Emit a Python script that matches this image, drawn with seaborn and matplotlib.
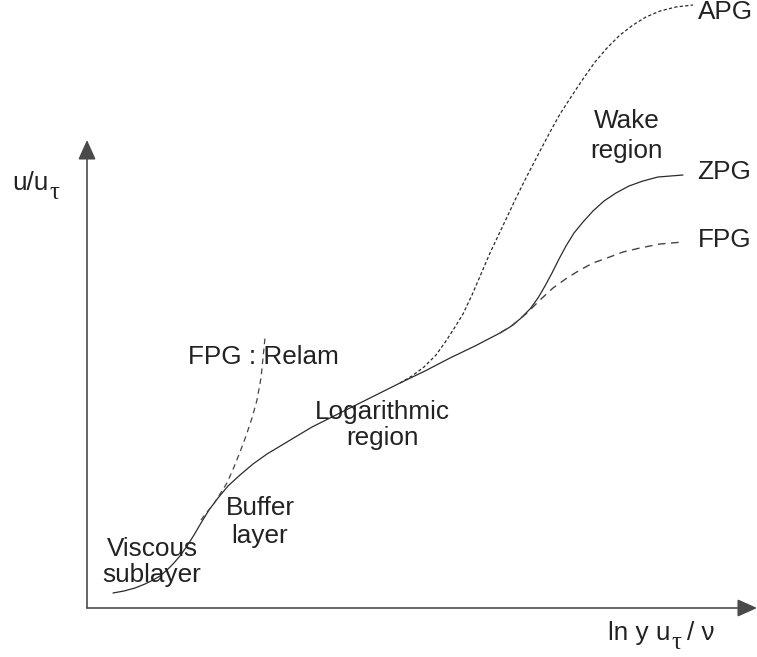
import matplotlib
matplotlib.use("Agg")
import matplotlib.pyplot as plt
import seaborn as sns

# curve points (x = ln y+, y = u+, arbitrary units, origin at axes corner)
zpg_x = [26, 37, 48, 58, 66, 73, 80, 86, 93, 100, 107, 114, 122, 131, 141, 153, 166, 180, 195,
         210, 225, 233, 253, 273, 293, 313, 338, 363, 388, 413, 423, 433, 443, 451, 458, 465, 472,
         479, 487, 496, 506, 517, 529, 542, 556, 571, 596]
zpg_y = [15, 17, 20, 24, 28, 32, 38, 44, 52, 62, 73, 85, 98, 110, 122, 133, 144, 154, 163,
         172, 181, 185, 195, 205, 215, 225, 237, 250, 262, 275, 281, 289, 299, 310, 322, 335, 349,
         362, 375, 386, 397, 407, 415, 422, 427, 431, 433]

fpg_x = [413, 426, 440, 453, 466, 480, 493, 506, 520, 536, 553, 573, 596]
fpg_y = [275, 283, 295, 308, 320, 330, 338, 345, 350, 356, 360, 364, 366]

apg_x = [313, 325, 337, 349, 359, 368, 376, 385, 394, 403, 412, 421, 430, 441, 453, 463, 473,
         484, 496, 508, 520, 533, 546, 559, 573, 589, 606]
apg_y = [225, 232, 241, 253, 267, 281, 294, 313, 334, 355, 374, 393, 412, 434, 457, 476, 494,
         511, 529, 546, 560, 573, 583, 591, 597, 601, 603]

relam_x = [114, 120, 126, 133, 140, 147, 153, 159, 165, 170, 174, 178]
relam_y = [88, 96, 103, 114, 125, 141, 156, 172, 190, 208, 230, 270]

sns.set_style("white")
plt.rcParams['font.family'] = ['Liberation Sans', 'DejaVu Sans']

fig = plt.figure(figsize=(7.57, 6.57), dpi=100)
ax = fig.add_axes([0, 0, 1, 1])

line_col = "#2b2b2b"
txt_col = "#222222"
axis_col = "#4a4a4a"

# curves
sns.lineplot(x=zpg_x, y=zpg_y, ax=ax, sort=False, estimator=None, color=line_col, lw=0.9)
sns.lineplot(x=fpg_x, y=fpg_y, ax=ax, sort=False, estimator=None, color="#444444", lw=1.0)
ax.lines[-1].set_dashes((5.5, 4))
sns.lineplot(x=apg_x, y=apg_y, ax=ax, sort=False, estimator=None, color=line_col, lw=0.9)
ax.lines[-1].set_dashes((2.6, 1.8))
sns.lineplot(x=relam_x, y=relam_y, ax=ax, sort=False, estimator=None, color="#444444", lw=0.9)
ax.lines[-1].set_dashes((4.5, 3.5))

# axes with arrow heads
arr = dict(arrowstyle="-|>,head_length=0.6,head_width=0.27", color=axis_col, lw=1.2,
           shrinkA=0, shrinkB=0, mutation_scale=20)
ax.annotate("", xy=(0, 468), xytext=(0, 0), arrowprops=arr)
ax.annotate("", xy=(670, 0), xytext=(0, 0), arrowprops=arr)

fs = 18.8
sub = dict(fontsize=fs * 0.95, color=txt_col, family=['Liberation Serif', 'DejaVu Serif'],
           ha="left", va="baseline")

# axis labels (subscript tau drawn as its own text)
yl = ax.text(-75, 425, "u/u", fontsize=fs, color=txt_col, ha="left", va="center")
ax.annotate("τ", xy=(1, 0), xycoords=yl, xytext=(0.5, -3), textcoords="offset points", **sub)

xl = ax.text(521, -25, "ln y u", fontsize=fs, color=txt_col, ha="left", va="center")
tau = ax.annotate("τ", xy=(1, 0), xycoords=xl, xytext=(0.5, -3), textcoords="offset points", **sub)
ax.annotate("/ ν", xy=(1, 0), xycoords=(tau, xl), xytext=(4, 0), textcoords="offset points",
            fontsize=fs, color=txt_col, ha="left", va="bottom")

ax.text(611, 596, "APG", fontsize=fs, color=txt_col, ha="left", va="center")
ax.text(610, 436, "ZPG", fontsize=fs, color=txt_col, ha="left", va="center")
ax.text(611, 368, "FPG", fontsize=fs, color=txt_col, ha="left", va="center")
ax.text(540, 472, "Wake\nregion", fontsize=fs, color=txt_col, ha="center", va="center", linespacing=1.32)
ax.text(101, 251, "FPG : Relam", fontsize=fs, color=txt_col, ha="left", va="center")
ax.text(295, 183, "Logarithmic\nregion", fontsize=fs, color=txt_col, ha="center", va="center", linespacing=1.1)
ax.text(173, 86, "Buffer\nlayer", fontsize=fs, color=txt_col, ha="center", va="center", linespacing=1.22)
ax.text(65, 46, "Viscous\nsublayer", fontsize=fs, color=txt_col, ha="center", va="center", linespacing=1.12)

ax.set_xlim(-87, 670)
ax.set_ylim(-49, 608)
ax.axis("off")

fig.savefig("out.png", dpi=100)
